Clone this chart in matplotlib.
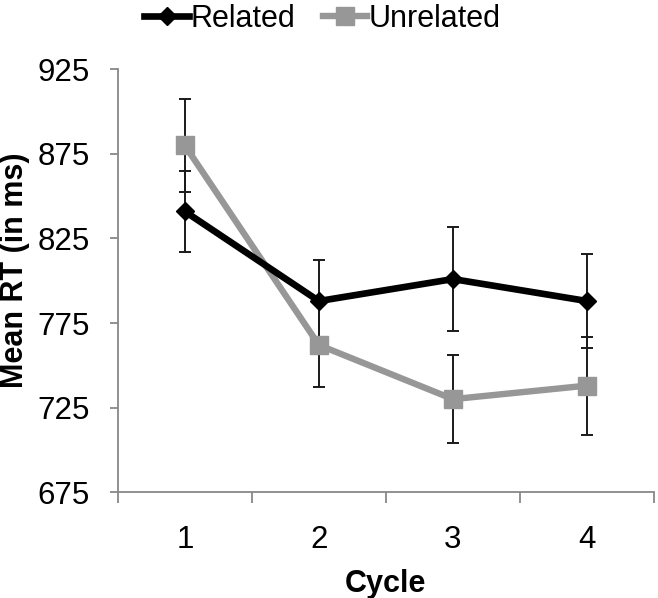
import matplotlib
matplotlib.use("Agg")
import matplotlib.pyplot as plt
from matplotlib.ticker import FixedLocator, NullFormatter

plt.rcParams['font.family'] = ['Liberation Sans', 'DejaVu Sans']

cycles = [1, 2, 3, 4]
cycle_labels = ["1", "2", "3", "4"]
related = [841, 788, 801, 788]
related_err = [24, 24.5, 31, 28]
unrelated = [880, 762, 730, 738]
unrelated_err = [27.5, 25, 26, 29]
yticks = [675, 725, 775, 825, 875, 925]

fig = plt.figure(figsize=(6.58, 5.98), dpi=100)
ax = fig.add_axes([0.179, 0.177, 0.815, 0.707])

gray = "#979797"
ax.errorbar(cycles, related, yerr=related_err, fmt='none', ecolor='#1a1a1a',
            elinewidth=1.4, capsize=4.5, capthick=1.4, zorder=1)
ax.errorbar(cycles, unrelated, yerr=unrelated_err, fmt='none', ecolor='#1a1a1a',
            elinewidth=1.4, capsize=4.5, capthick=1.4, zorder=1)
ax.plot(cycles, related, color='black', lw=4.8, marker='D', markersize=9.5,
        label='Related', zorder=3)
ax.plot(cycles, unrelated, color=gray, lw=4.6, marker='s', markersize=13,
        label='Unrelated', zorder=2)

ax.set_xlim(0.5, 4.5)
ax.set_ylim(675, 925)
ax.set_yticks(yticks)
ax.set_yticklabels([str(t) for t in yticks])
ax.set_xticks(cycles)
ax.set_xticklabels(cycle_labels)
ax.xaxis.set_minor_locator(FixedLocator([0.5, 1.5, 2.5, 3.5, 4.5]))
ax.xaxis.set_minor_formatter(NullFormatter())
ax.tick_params(axis='x', which='major', length=0, pad=24, labelsize=22.5)
ax.tick_params(axis='x', which='minor', length=8, width=1.3, color='#888888', direction='out')
ax.tick_params(axis='y', which='major', length=6, width=1.3, color='#888888', direction='out',
               labelsize=22.5, pad=14)

for s in ['top', 'right']:
    ax.spines[s].set_visible(False)
for s in ['left', 'bottom']:
    ax.spines[s].set_color('#888888')
    ax.spines[s].set_linewidth(1.3)

ax.set_xlabel('Cycle', fontsize=22, fontweight='bold', labelpad=10)
ax.set_ylabel('Mean RT (in ms)', fontsize=22, fontweight='bold')
ax.yaxis.set_label_coords(-0.163, 0.525)

fig.legend(loc='upper center', bbox_to_anchor=(0.49, 1.04), ncol=2, frameon=False,
           fontsize=22, handlelength=1.45, handletextpad=0.05, columnspacing=0.9)

fig.savefig('out.png', dpi=100)
